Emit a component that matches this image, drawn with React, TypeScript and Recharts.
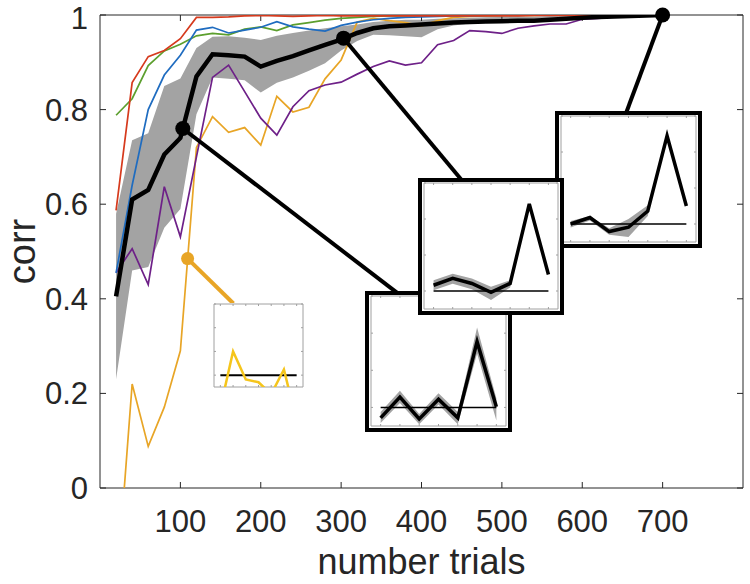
import React from "react"
import {
  ComposedChart, Line, Area,
  XAxis, YAxis,
  ReferenceLine, ReferenceDot, ReferenceArea,
} from "recharts"

// ── Look ───────────────────────────────────────────────────────
const FONT = "'Liberation Sans', Arial, Helvetica, sans-serif"
const INK = "#262626"
const BAND_GREY = "#a3a3a3"
const FRAME_GREY = "#a0a0a0"

const COL = {
  red: "#d63a1d",
  blue: "#1f6cc0",
  green: "#5c9f2e",
  purple: "#6e2088",
  orange: "#e8a526",
  yellow: "#f5c51c",
}

// ── Main panel data ────────────────────────────────────────────
const TRIALS = [
  20, 40, 60, 80, 100, 120, 140, 160, 180, 200, 220, 240, 260, 280, 300, 320, 340, 360,
  380, 400, 420, 440, 460, 480, 500, 520, 540, 560, 580, 600, 620, 640, 660, 680, 700,
]
const MEAN = [
  0.405, 0.61, 0.63, 0.705, 0.74, 0.87, 0.917, 0.915, 0.912, 0.891, 0.903, 0.913, 0.925, 0.937, 0.948, 0.962, 0.972, 0.976,
  0.978, 0.98, 0.982, 0.984, 0.985, 0.986, 0.987, 0.988, 0.988, 0.99, 0.992, 0.994, 0.996, 0.997, 0.998, 0.999, 1.0,
]
const BAND_LO = [
  0.23, 0.46, 0.467, 0.55, 0.59, 0.79, 0.868, 0.865, 0.862, 0.836, 0.857, 0.868, 0.882, 0.898, 0.925, 0.945, 0.958, 0.957,
  0.955, 0.953, 0.97, 0.978, 0.982, 0.984, 0.985, 0.986, 0.987, 0.988, 0.99, 0.992, 0.994, 0.995, 0.997, 0.998, 1.0,
]
const BAND_HI = [
  0.58, 0.735, 0.75, 0.85, 0.866, 0.93, 0.954, 0.955, 0.952, 0.947, 0.956, 0.962, 0.967, 0.972, 0.976, 0.98, 0.985, 0.988,
  0.99, 0.99, 0.992, 0.993, 0.994, 0.995, 0.996, 0.997, 0.997, 0.998, 0.998, 0.999, 0.999, 1.0, 1.0, 1.0, 1.0,
]
const RED = [
  0.587, 0.857, 0.912, 0.925, 0.95, 0.995, 0.995, 0.996, 0.998, 0.999, 0.998, 0.997, 0.998, 0.999, 0.998, 0.998, 0.998, 0.998,
  0.998, 0.998, 0.998, 0.998, 0.998, 0.998, 0.998, 0.998, 0.999, 0.999, 0.999, 0.999, 0.999, 0.999, 0.999, 0.999, 1.0,
]
const BLUE = [
  0.455, 0.64, 0.8, 0.873, 0.915, 0.968, 0.974, 0.962, 0.968, 0.974, 0.986, 0.975, 0.97, 0.966, 0.978, 0.985, 0.99, 0.993,
  0.995, 0.996, 0.997, 0.998, 0.998, 0.999, 0.999, 0.999, 1.0, 1.0, 1.0, 1.0, 1.0, 1.0, 1.0, 1.0, 1.0,
]
const GREEN = [
  0.788, 0.823, 0.893, 0.924, 0.938, 0.956, 0.961, 0.958, 0.97, 0.975, 0.967, 0.979, 0.984, 0.989, 0.993, 0.995, 0.997, 0.998,
  0.998, 0.999, 0.999, 0.999, 0.999, 0.999, 0.999, 1.0, 1.0, 1.0, 1.0, 1.0, 1.0, 1.0, 1.0, 1.0, 1.0,
]
const PURPLE = [
  0.455, 0.506, 0.43, 0.637, 0.531, 0.7, 0.868, 0.894, 0.838, 0.782, 0.746, 0.806, 0.84, 0.852, 0.858, 0.875, 0.891, 0.903,
  0.894, 0.899, 0.937, 0.946, 0.967, 0.965, 0.961, 0.972, 0.977, 0.981, 0.981, 0.991, 0.993, 0.996, 0.999, 1.0, 1.0,
]
const ORANGE = [
  -0.23, 0.22, 0.088, 0.171, 0.29, 0.72, 0.785, 0.752, 0.762, 0.725, 0.828, 0.795, 0.805, 0.865, 0.905, 0.985, 0.993, 0.988,
  0.984, 0.977, 0.988, 0.995, 0.997, 0.998, 0.999, 0.999, 0.999, 1.0, 1.0, 1.0, 1.0, 1.0, 1.0, 1.0, 1.0,
]

const X_TICKS = [100, 200, 300, 400, 500, 600, 700]
const Y_TICKS = [0, 0.2, 0.4, 0.6, 0.8, 1]
const X_DOMAIN: [number, number] = [0, 800]
const Y_DOMAIN: [number, number] = [0, 1]

// highlighted points and where their leader lines meet the insets (data units)
const BLACK_DOTS = [
  { x: 103, y: 0.76, to: { x: 371, y: 0.411 } },
  { x: 303, y: 0.951, to: { x: 452, y: 0.647 } },
  { x: 700, y: 1.0, to: { x: 655, y: 0.795 } },
]
const ORANGE_DOT = { x: 109, y: 0.485, to: { x: 166, y: 0.39 } }

// ── Inset data (7 steps each) ──────────────────────────────────
const INSET_X = [1, 2, 3, 4, 5, 6, 7]
const INSET_Y_TICKS = [0, 1, 2, 3]
const INSET_X_DOMAIN: [number, number] = [0.5, 7.5]
const INSET_Y_DOMAIN: [number, number] = [-0.5, 3]

const A_MEAN = [-0.28, 0.28, -0.31, 0.22, -0.28, 1.77, 0.02]
const A_LO = [-0.42, 0.12, -0.45, 0.08, -0.45, 1.45, -0.35]
const A_HI = [-0.12, 0.45, -0.18, 0.38, -0.12, 2.15, 0.25]

const B_MEAN = [0.16, 0.35, 0.21, -0.04, 0.21, 2.42, 0.46]
const B_LO = [0.02, 0.2, 0.05, -0.25, 0.1, 2.42, 0.46]
const B_HI = [0.3, 0.48, 0.35, 0.12, 0.3, 2.42, 0.46]

const C_MEAN = [0.0, 0.18, -0.21, -0.09, 0.36, 2.45, 0.5]
const C_LO = [-0.1, 0.1, -0.3, -0.36, 0.22, 2.45, 0.5]
const C_HI = [0.08, 0.22, -0.12, 0.14, 0.52, 2.45, 0.5]

const Y_MEAN = [-1.38, 1.0, -0.18, -0.3, -0.8, 0.24, -1.94]

const mainRows = TRIALS.map((t, i) => ({
  trial: t,
  band: [BAND_LO[i], BAND_HI[i]],
  mean: MEAN[i],
  red: RED[i],
  blue: BLUE[i],
  green: GREEN[i],
  purple: PURPLE[i],
  orange: ORANGE[i],
}))

const fmtY = (v: number) => String(+v.toFixed(1))
const blank = () => ""

// MATLAB-style inward ticks on all four sides of a box
function boxTicks(
  prefix: string,
  xTicks: number[], yTicks: number[],
  xDom: [number, number], yDom: [number, number],
  plotW: number, plotH: number, len: number, stroke: string,
) {
  const dy = (len / plotH) * (yDom[1] - yDom[0])
  const dx = (len / plotW) * (xDom[1] - xDom[0])
  const out: React.ReactNode[] = []
  xTicks.forEach((t) => {
    out.push(<ReferenceLine key={`${prefix}b${t}`} segment={[{ x: t, y: yDom[0] }, { x: t, y: yDom[0] + dy }]} stroke={stroke} strokeWidth={1} />)
    out.push(<ReferenceLine key={`${prefix}t${t}`} segment={[{ x: t, y: yDom[1] }, { x: t, y: yDom[1] - dy }]} stroke={stroke} strokeWidth={1} />)
  })
  yTicks.forEach((v) => {
    out.push(<ReferenceLine key={`${prefix}l${v}`} segment={[{ x: xDom[0], y: v }, { x: xDom[0] + dx, y: v }]} stroke={stroke} strokeWidth={1} />)
    out.push(<ReferenceLine key={`${prefix}r${v}`} segment={[{ x: xDom[1], y: v }, { x: xDom[1] - dx, y: v }]} stroke={stroke} strokeWidth={1} />)
  })
  return out
}

// ── Inset panel ────────────────────────────────────────────────
interface InsetProps {
  left: number
  top: number
  width: number
  height: number
  framed: boolean
  mean: number[]
  lo?: number[]
  hi?: number[]
  colour: string
  lineWidth: number
}

function Inset({ left, top, width, height, framed, mean, lo, hi, colour, lineWidth }: InsetProps) {
  const rows = INSET_X.map((x, i) => ({
    x,
    mean: mean[i],
    band: lo && hi ? [lo[i], hi[i]] : undefined,
  }))
  const b = framed ? 4 : 0
  const margin = framed ? { top: 1, right: 2, bottom: 2, left: 2 } : { top: 1, right: 1, bottom: 1, left: 1 }
  const cw = width - 2 * b
  const ch = height - 2 * b
  const plotW = cw - margin.left - margin.right
  const plotH = ch - margin.top - margin.bottom
  return (
    <div style={{
      position: "absolute", left, top, width, height,
      boxSizing: "border-box",
      border: framed ? "4px solid #000" : "none",
      background: "#fff",
    }}>
      <ComposedChart width={cw} height={ch} data={rows} margin={margin}>
        <XAxis dataKey="x" type="number" domain={INSET_X_DOMAIN} ticks={INSET_X} allowDataOverflow height={0}
          axisLine={false} tickLine={false} tickFormatter={blank} />
        <YAxis type="number" domain={INSET_Y_DOMAIN} ticks={INSET_Y_TICKS} allowDataOverflow width={0}
          axisLine={false} tickLine={false} tickFormatter={blank} />
        <ReferenceArea x1={INSET_X_DOMAIN[0]} x2={INSET_X_DOMAIN[1]} y1={INSET_Y_DOMAIN[0]} y2={INSET_Y_DOMAIN[1]}
          fill="none" stroke={FRAME_GREY} strokeWidth={1} ifOverflow="visible" />
        {boxTicks("i", INSET_X, INSET_Y_TICKS, INSET_X_DOMAIN, INSET_Y_DOMAIN, plotW, plotH, 2, FRAME_GREY)}
        {lo && (
          <Area dataKey="band" fill={BAND_GREY} fillOpacity={1} stroke="none" isAnimationActive={false} />
        )}
        <ReferenceLine segment={[{ x: 1, y: 0 }, { x: 7, y: 0 }]} stroke="#000" strokeWidth={framed ? 1.5 : 2} />
        <Line dataKey="mean" stroke={colour} strokeWidth={lineWidth} dot={false} isAnimationActive={false} />
      </ComposedChart>
    </div>
  )
}

// ── App ────────────────────────────────────────────────────────
const CHART_W = 750
const CHART_H = 584
const MARGIN = { top: 15, right: 7, bottom: 0, left: 0 }
const Y_AXIS_W = 100
const X_AXIS_H = 96

export default function App() {
  const tickText = { fill: INK, fontSize: 31, fontFamily: FONT }
  const plotW = CHART_W - MARGIN.left - MARGIN.right - Y_AXIS_W
  const plotH = CHART_H - MARGIN.top - MARGIN.bottom - X_AXIS_H
  const series: [keyof typeof COL, string][] = [
    ["orange", COL.orange],
    ["purple", COL.purple],
    ["green", COL.green],
    ["blue", COL.blue],
    ["red", COL.red],
  ]
  return (
    <div style={{
      position: "absolute", left: 0, top: 0, width: CHART_W, height: CHART_H,
      background: "#fff", fontFamily: FONT, overflow: "hidden",
    }}>
      <ComposedChart width={CHART_W} height={CHART_H} data={mainRows} margin={MARGIN}>
        <XAxis
          dataKey="trial" type="number" domain={X_DOMAIN} ticks={X_TICKS} interval={0}
          allowDataOverflow height={X_AXIS_H} axisLine={false} tickLine={false}
          tickSize={-6} tickMargin={28}
          tick={tickText}
          label={{ value: "number trials", position: "insideBottom", offset: 10, fill: INK, fontSize: 36, fontFamily: FONT }}
        />
        <YAxis
          type="number" domain={Y_DOMAIN} ticks={Y_TICKS} allowDataOverflow width={Y_AXIS_W}
          axisLine={false} tickLine={false}
          tickSize={-6} tickMargin={18} tick={tickText} tickFormatter={fmtY}
          label={{ value: "corr", angle: -90, position: "insideLeft", offset: 22, fill: INK, fontSize: 38, fontFamily: FONT, style: { textAnchor: "middle" } }}
        />
        <ReferenceArea x1={X_DOMAIN[0]} x2={X_DOMAIN[1]} y1={Y_DOMAIN[0]} y2={Y_DOMAIN[1]}
          fill="none" stroke={INK} strokeWidth={1} ifOverflow="visible" />
        {boxTicks("m", X_TICKS, Y_TICKS, X_DOMAIN, Y_DOMAIN, plotW, plotH, 6, INK)}

        <Area dataKey="band" fill={BAND_GREY} fillOpacity={1} stroke="none" isAnimationActive={false} />
        {series.map(([key, colour]) => (
          <Line key={key} dataKey={key} stroke={colour} strokeWidth={1.7} dot={false} isAnimationActive={false} />
        ))}
        <Line dataKey="mean" stroke="#000" strokeWidth={4.5} dot={false} isAnimationActive={false} />

        {BLACK_DOTS.map((d, i) => (
          <ReferenceLine
            key={`lead-${i}`}
            segment={[{ x: d.x, y: d.y }, d.to]}
            stroke="#000" strokeWidth={4}
          />
        ))}
        <ReferenceLine segment={[{ x: ORANGE_DOT.x, y: ORANGE_DOT.y }, ORANGE_DOT.to]} stroke={COL.orange} strokeWidth={4} />
        {BLACK_DOTS.map((d, i) => (
          <ReferenceDot key={`dot-${i}`} x={d.x} y={d.y} r={7.5} fill="#000" stroke="none" ifOverflow="visible" />
        ))}
        <ReferenceDot x={ORANGE_DOT.x} y={ORANGE_DOT.y} r={6.5} fill={COL.orange} stroke="none" ifOverflow="visible" />
      </ComposedChart>

      <Inset left={213} top={303} width={91} height={85} framed={false} mean={Y_MEAN} colour={COL.yellow} lineWidth={2.5} />
      <Inset left={365} top={291} width={147} height={141} framed mean={A_MEAN} lo={A_LO} hi={A_HI} colour="#000" lineWidth={3.5} />
      <Inset left={555} top={111} width={147} height={137} framed mean={C_MEAN} lo={C_LO} hi={C_HI} colour="#000" lineWidth={3.5} />
      <Inset left={418} top={178} width={146} height={137} framed mean={B_MEAN} lo={B_LO} hi={B_HI} colour="#000" lineWidth={3.5} />
    </div>
  )
}
